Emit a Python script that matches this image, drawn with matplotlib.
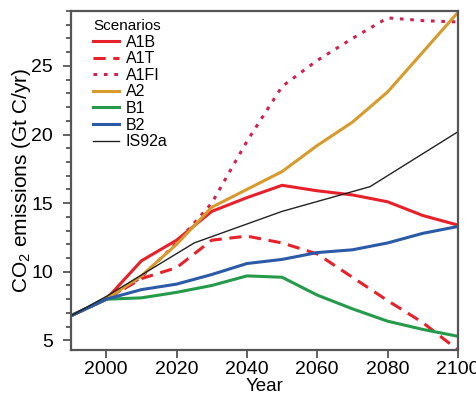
import matplotlib
matplotlib.use("Agg")
import matplotlib.pyplot as plt
from matplotlib.ticker import MultipleLocator

plt.rcParams['font.family'] = ['Liberation Sans', 'DejaVu Sans']
plt.rcParams['mathtext.fontset'] = 'custom'
plt.rcParams['mathtext.rm'] = 'Liberation Sans'

years = [1990, 2000, 2010, 2020, 2030, 2040, 2050, 2060, 2070, 2080, 2090, 2100]
a1b = [6.8, 8.0, 10.8, 12.3, 14.4, 15.4, 16.3, 15.9, 15.6, 15.1, 14.1, 13.4]
a1t = [6.8, 8.0, 9.5, 10.3, 12.3, 12.6, 12.1, 11.3, 9.6, 7.9, 6.3, 4.3]
a1fi = [6.8, 8.0, 9.6, 12.1, 15.0, 19.5, 23.5, 25.4, 27.0, 28.5, 28.3, 28.2]
a2 = [6.8, 8.0, 9.7, 12.0, 14.7, 16.0, 17.3, 19.2, 20.9, 23.1, 26.0, 28.9]
b1 = [6.8, 8.0, 8.1, 8.5, 9.0, 9.7, 9.6, 8.3, 7.3, 6.4, 5.8, 5.3]
b2 = [6.8, 8.0, 8.7, 9.1, 9.8, 10.6, 10.9, 11.4, 11.6, 12.1, 12.8, 13.3]
is92a_years = [1990, 2000, 2025, 2050, 2075, 2100]
is92a = [6.8, 8.2, 12.1, 14.4, 16.2, 20.2]

xticks = [2000, 2020, 2040, 2060, 2080, 2100]
yticks = [5, 10, 15, 20, 25]

fig = plt.figure(figsize=(4.77, 4.0), dpi=100)
ax = fig.add_axes([0.149, 0.125, 0.811, 0.8475])

red = '#e8202a'
ax.plot(years, a1b, color=red, lw=2.2, label='A1B')
ax.plot(years, a1t, color=red, lw=2.2, ls=(0, (4, 2.5)), label='A1T')
ax.plot(years, a1fi, color='#d41f4f', lw=2.2, ls=(0, (1.2, 2.2)), label='A1FI')
ax.plot(years, a2, color='#d89a2a', lw=2.2, label='A2')
ax.plot(years, b1, color='#259a4a', lw=2.2, label='B1')
ax.plot(years, b2, color='#2b5aa6', lw=2.2, label='B2')
ax.plot(is92a_years, is92a, color='#222222', lw=1.0, label='IS92a')

ax.set_xlim(1990, 2100)
ax.set_ylim(4.3, 29)
ax.set_xticks(xticks)
ax.set_yticks(yticks)
ax.yaxis.set_minor_locator(MultipleLocator(1))

for s in ax.spines.values():
    s.set_color('#555555')
    s.set_linewidth(1.6)
ax.tick_params(axis='both', which='major', direction='out', length=6, width=1.3,
               color='#555555', labelsize=14)
ax.tick_params(axis='x', which='major', pad=2)
ax.tick_params(axis='y', which='major', pad=7)
ax.tick_params(axis='y', which='minor', direction='out', length=3.5, width=1.3,
               color='#555555')

ax.set_xlabel('Year', fontsize=13.5, labelpad=0)
ax.set_ylabel(r'CO$_\mathregular{2}$ emissions (Gt C/yr)', fontsize=15, labelpad=-1)

leg = ax.legend(loc='upper left', bbox_to_anchor=(0.04, 0.995), frameon=False,
                title='Scenarios', fontsize=11.5, title_fontsize=11,
                handlelength=1.65, handletextpad=0.4, labelspacing=0.1,
                borderaxespad=0.0, borderpad=0.4, alignment='left')

fig.savefig('out.png', dpi=100)
